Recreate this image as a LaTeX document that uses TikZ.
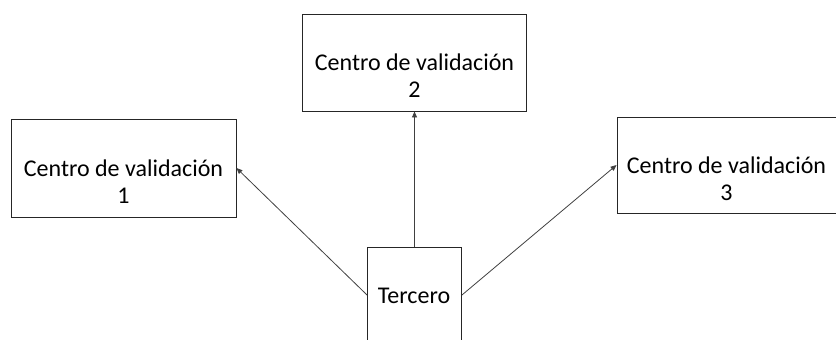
\documentclass[tikz,border=0pt]{standalone}
\usepackage{fontspec}
\setmainfont{Carlito}
\usetikzlibrary{arrows.meta}
\begin{document}
\begin{tikzpicture}[x=1bp,y=-1bp,
  box/.style={draw=black!85,line width=0.9bp,inner sep=0pt,minimum width=#1},
  lbl/.style={align=center,font=\fontsize{24bp}{27bp}\selectfont,inner sep=0pt},
  conn/.style={draw=black!75,line width=0.8bp,-{Triangle[length=6bp,width=5bp]}}]
\useasboundingbox (0,0) rectangle (836,339);
\clip (0,0) rectangle (836,339);
\node[box=225bp,minimum height=98bp] (b1) at (123.5,168) {};
\node[box=224bp,minimum height=97bp] (b2) at (414.5,62.5) {};
\node[box=219bp,minimum height=96bp] (b3) at (726.5,165) {};
\node[box=94bp,minimum height=96bp] (t) at (414.5,295) {};
\node[lbl] (l1) at (123.5,182) {Centro de validación\\1};
\node[lbl] (l2) at (414.5,76) {Centro de validación\\2};
\node[lbl] (l3) at (726.5,179) {Centro de validación\\3};
\node[lbl] (lt) at (414,296) {Tercero};
\draw[conn] (t.north) -- (b2.south);
\draw[conn] (t.west) -- (b1.east);
\draw[conn] (t.east) -- (b3.west);
\end{tikzpicture}
\end{document}
